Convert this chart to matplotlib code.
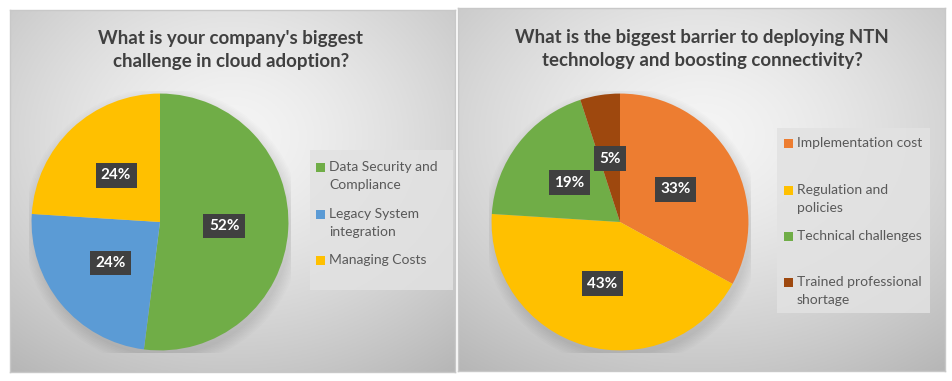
import numpy as np
import matplotlib.pyplot as plt
from matplotlib.patches import Rectangle

# chart data
left_title = "What is your company's biggest\nchallenge in cloud adoption?"
left_labels = ["Data Security and\nCompliance", "Legacy System\nintegration", "Managing Costs"]
left_values = [52, 24, 24]
left_colors = ["#70ad47", "#5b9bd5", "#ffc000"]

right_title = "What is the biggest barrier to deploying NTN\ntechnology and boosting connectivity?"
right_labels = ["Implementation cost", "Regulation and\npolicies", "Technical challenges",
                "Trained professional\nshortage"]
right_values = [33, 43, 19, 5]
right_colors = ["#ed7d31", "#ffc000", "#70ad47", "#9e480e"]

plt.rcParams['font.family'] = ['Lato', 'DejaVu Sans']

W, H = 952, 381
fig = plt.figure(figsize=(W / 100, H / 100), dpi=100)
fig.patch.set_facecolor('white')


def fc(x0, y0, x1, y1):
    # pixel box (top-left origin) -> figure rect
    return [x0 / W, 1 - y1 / H, (x1 - x0) / W, (y1 - y0) / H]


def panel(box):
    ax = fig.add_axes(fc(*box))
    yy, xx = np.mgrid[-1:1:200j, -1:1:300j]
    r = np.sqrt(xx ** 2 + (yy + 0.3) ** 2) / np.sqrt(2)
    g = 0.96 - 0.2 * r ** 1.4
    ax.imshow(np.dstack([g, g, g]), extent=[0, 1, 0, 1], aspect='auto')
    ax.set_xticks([])
    ax.set_yticks([])
    for s in ax.spines.values():
        s.set_color('#c8c8c8')
        s.set_linewidth(1)
    return ax


def pie(box, values, colors):
    ax = fig.add_axes(fc(*box))
    # soft shadow
    for k in range(8):
        ax.add_patch(plt.Circle((0.02, -0.04), 1.0 + 0.012 * k, color='black',
                                alpha=0.012, lw=0, zorder=0))
    wedges, texts, autotexts = ax.pie(
        values, colors=colors, startangle=90, counterclock=False,
        autopct='%d%%', pctdistance=0.5, radius=1,
        wedgeprops=dict(linewidth=0),
        textprops=dict(color='white', fontsize=11, fontweight='bold'))
    for t in autotexts:
        t.set_bbox(dict(boxstyle='square,pad=0.35', facecolor='#404040', edgecolor='none'))
    ax.set_xlim(-1.02, 1.02)
    ax.set_ylim(-1.02, 1.02)
    ax.axis('off')
    return wedges


def legend(box, labels, colors, marker_x, text_x, ys):
    x0, y0, x1, y1 = box
    fig.patches.append(Rectangle((x0 / W, 1 - y1 / H), (x1 - x0) / W, (y1 - y0) / H,
                                 transform=fig.transFigure, facecolor='#e2e2e2',
                                 edgecolor='none', alpha=0.85, zorder=2))
    for lab, col, y in zip(labels, colors, ys):
        fig.patches.append(Rectangle((marker_x / W, 1 - (y + 4.5) / H), 9 / W, 9 / H,
                                     transform=fig.transFigure, facecolor=col,
                                     edgecolor='none', zorder=3))
        for i, line in enumerate(lab.split('\n')):
            fig.text(text_x / W, 1 - (y + 18 * i) / H, line, ha='left', va='center',
                     fontsize=10, color='#595959', zorder=4)


# left panel
panel((10, 10, 455, 372))
fig.text(231 / W, 1 - 50 / H, left_title, ha='center', va='center', fontsize=13.5,
         fontweight='bold', color='#404040', linespacing=1.4)
wl = pie((29, 91, 291, 353), left_values, left_colors)
legend((310, 150, 453, 290), left_labels, left_colors, 316, 329, [167, 214, 260])

# right panel
panel((458, 8, 945, 371))
fig.text(702 / W, 1 - 49 / H, right_title, ha='center', va='center', fontsize=13.4,
         fontweight='bold', color='#404040', linespacing=1.4)
wr = pie((489, 91, 751, 353), right_values, right_colors)
legend((777, 128, 930, 313), right_labels, right_colors, 784, 797, [143, 190, 236, 282])

fig.savefig('out.png', dpi=100)
